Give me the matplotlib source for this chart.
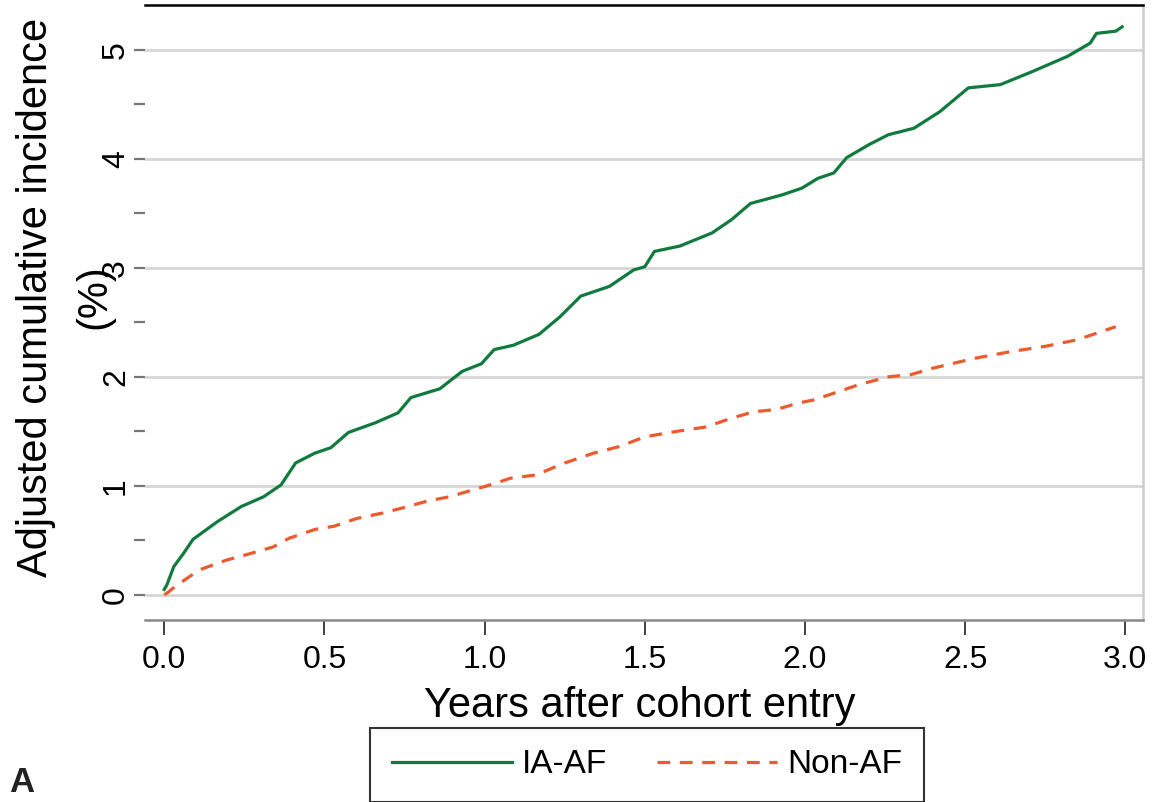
import matplotlib
matplotlib.use("Agg")
import matplotlib.pyplot as plt
import numpy as np

# values (years, adjusted cumulative incidence %)
ia_af_years = [0.0, 0.008, 0.03, 0.06, 0.09, 0.165, 0.24, 0.31, 0.365, 0.41, 0.47,
               0.52, 0.575, 0.66, 0.73, 0.77, 0.86, 0.93, 0.99, 1.03, 1.09, 1.17,
               1.235, 1.30, 1.39, 1.465, 1.50, 1.53, 1.61, 1.71, 1.77, 1.83, 1.93,
               1.99, 2.04, 2.09, 2.13, 2.20, 2.26, 2.34, 2.42, 2.51, 2.61, 2.71,
               2.82, 2.89, 2.91, 2.97, 2.99]
ia_af_inc = [0.05, 0.09, 0.26, 0.38, 0.51, 0.67, 0.81, 0.90, 1.01, 1.21, 1.30,
             1.35, 1.49, 1.58, 1.67, 1.81, 1.89, 2.05, 2.12, 2.25, 2.29, 2.39,
             2.55, 2.74, 2.83, 2.98, 3.01, 3.15, 3.20, 3.32, 3.44, 3.59, 3.67,
             3.73, 3.82, 3.87, 4.01, 4.13, 4.22, 4.28, 4.43, 4.65, 4.68, 4.80,
             4.94, 5.06, 5.15, 5.17, 5.21]

non_af_years = [0.0, 0.01, 0.04, 0.11, 0.195, 0.27, 0.34, 0.39, 0.47, 0.53, 0.60,
                0.68, 0.76, 0.82, 0.89, 0.96, 1.03, 1.08, 1.16, 1.25, 1.34, 1.42,
                1.50, 1.60, 1.69, 1.77, 1.84, 1.91, 1.98, 2.03, 2.17, 2.26, 2.33,
                2.40, 2.53, 2.64, 2.75, 2.85, 2.97]
non_af_inc = [0.0, 0.02, 0.09, 0.23, 0.32, 0.38, 0.44, 0.52, 0.60, 0.63, 0.70,
              0.75, 0.81, 0.86, 0.90, 0.96, 1.02, 1.07, 1.10, 1.21, 1.30, 1.36,
              1.45, 1.50, 1.54, 1.62, 1.68, 1.70, 1.76, 1.79, 1.93, 2.00, 2.02,
              2.08, 2.17, 2.23, 2.28, 2.34, 2.46]

x_ticks = [0.0, 0.5, 1.0, 1.5, 2.0, 2.5, 3.0]
x_tick_labels = ["0.0", "0.5", "1.0", "1.5", "2.0", "2.5", "3.0"]
y_ticks = [0, 1, 2, 3, 4, 5]
series_labels = ["IA-AF", "Non-AF"]

GREEN = "#117a3e"
RED = "#ec5a2e"
plt.rcParams["font.family"] = ["Liberation Sans", "DejaVu Sans"]


def draw(save_file):
    fig = plt.figure(figsize=(11.56, 8.02), dpi=100)
    ax = fig.add_axes([145 / 1156, 1 - 620 / 802, (1143 - 145) / 1156, (620 - 5) / 802])

    ax.plot(ia_af_years, ia_af_inc, color=GREEN, lw=2.3, label=series_labels[0])
    ax.plot(non_af_years, non_af_inc, color=RED, lw=2.3, dashes=(4, 3),
            label=series_labels[1])

    ax.set_xlim(-0.06, 3.055)
    ax.set_ylim(-0.23, 5.41)

    ax.set_xticks(x_ticks)
    ax.set_xticklabels(x_tick_labels, fontsize=23)
    ax.set_yticks(y_ticks)
    ax.set_yticklabels([str(v) for v in y_ticks], fontsize=23,
                       rotation=90, va="center")
    ax.set_yticks(np.arange(0.5, 5.0, 1.0), minor=True)
    ax.tick_params(axis="x", length=11, width=1.3, color="#333333", pad=7)
    ax.tick_params(axis="y", which="both", length=8, width=1.6, color="#777777", pad=2)

    ax.grid(axis="y", color="#d6d6d6", lw=2)
    ax.set_axisbelow(True)

    ax.spines["left"].set_visible(False)
    ax.spines["top"].set_color("black")
    ax.spines["top"].set_linewidth(1.8)
    ax.spines["right"].set_color("#cccccc")
    ax.spines["right"].set_linewidth(1.8)
    ax.spines["bottom"].set_color("#888888")
    ax.spines["bottom"].set_linewidth(1.8)

    # two-line y title, drawn as two texts like the original layout
    fig.text(36 / 1156, 1 - 297 / 802, "Adjusted cumulative incidence",
             rotation=90, ha="center", va="center", fontsize=30)
    fig.text(94 / 1156, 1 - 297 / 802, "(%)",
             rotation=90, ha="center", va="center", fontsize=30)
    fig.text(640 / 1156, 1 - 706 / 802, "Years after cohort entry",
             ha="center", va="center", fontsize=30)
    fig.text(22 / 1156, 1 - 782 / 802, "A", ha="center", va="center",
             fontsize=25, fontweight="bold", color="#222222")

    leg = fig.legend(loc="lower left", bbox_to_anchor=(370 / 1156, 0.0),
                     ncol=2, frameon=True, fancybox=False, fontsize=24,
                     handlelength=3.6, handletextpad=0.3, columnspacing=1.5,
                     borderpad=0.65, borderaxespad=0.0)
    leg.get_frame().set_edgecolor("black")
    leg.get_frame().set_linewidth(1.5)

    if save_file is not None:
        fig.savefig(save_file, dpi=100)


if __name__ == "__main__":
    draw("out.png")
